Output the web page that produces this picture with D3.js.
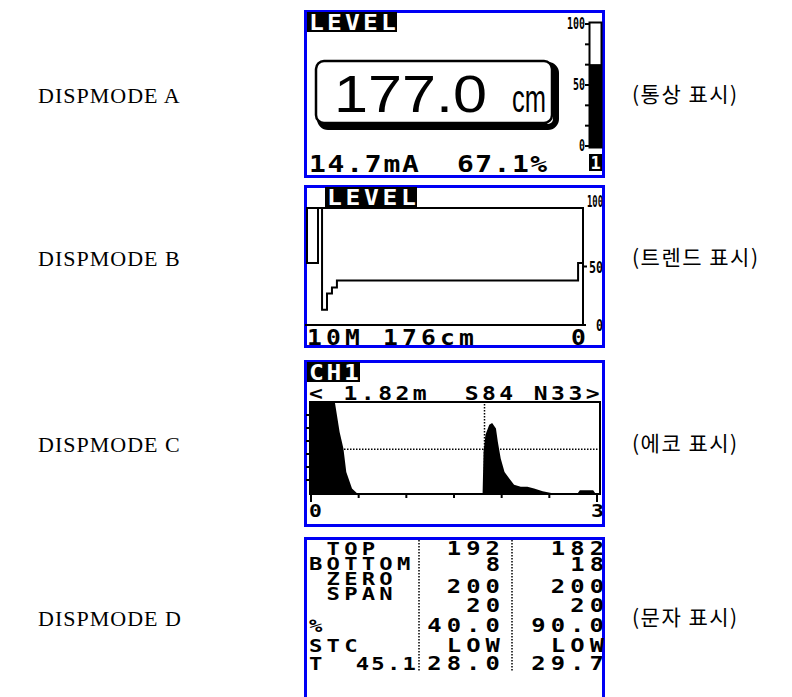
<!DOCTYPE html>
<html>
<head>
<meta charset="utf-8">
<title>DISPMODE</title>
<style>
body{margin:0;background:#fff}
svg{display:block}
</style>
</head>
<body>
<script src="https://cdn.jsdelivr.net/npm/d3@7"></script>
<script>
var modeNames = ['DISPMODE A', 'DISPMODE B', 'DISPMODE C', 'DISPMODE D']
var modeNotes = ['(통상 표시)', '(트렌드 표시)', '(에코 표시)', '(문자 표시)']

// A - normal display
var levelValue = '177.0', levelUnit = 'cm'
var levelCurrent = '14.7mA', levelPercentText = '67.1%'
var levelPercent = 67.1
var gaugeLabels = [0, 50, 100]

// B - trend (minutes from left edge, %)
var trendTime  = [0, 0.04, 0.23, 0.42, 0.61, 9.85, 10]
var trendLevel = [100, 13, 27, 32, 38, 53, 53]
var trendLabel = '10M 176cm'

// C - echo (m, amplitude %)
var echoRange = [0, 3]
var echoDist = [0, 0.25, 0.30, 0.34, 0.37, 0.43, 0.48, 1.80, 1.81, 1.83, 1.87, 1.90, 1.94, 1.96, 1.99,
                2.03, 2.08, 2.13, 2.20, 2.27, 2.34, 2.43, 2.52, 2.80, 2.82, 2.96, 2.98, 3.0]
var echoAmp  = [100, 100, 67, 49, 23, 5, 0, 0, 45, 64, 75, 77, 71, 56, 38,
                23, 16, 9, 7, 7, 5, 2, 0, 0, 3, 3, 0, 0]
var echoGate = 1.82, echoThreshold = 48
var echoHeader = '< 1.82m  S84 N33>'

// D - text display
var tableLabels = [' TOP', 'BOTTOM', ' ZERO', ' SPAN', '%', 'STC', 'T  45.1']
var tableCh1 = ['192', '8', '200', '20', '40.0', 'LOW', '28.0']
var tableCh2 = ['182', '18', '200', '20', '90.0', 'LOW', '29.7']

var BLUE = '#0000f4', MONO = 'DejaVu Sans Mono', SX = 1.2

var svg = d3.select('body').append('svg').attr('width', 792).attr('height', 697)

// lcd-ish text: monospace, a bit widened, fixed character pitch
function lcd(g, str, x, base, cap, pitch, fill){
  var fs = cap / 0.73
  return g.append('text')
    .attr('transform', 'scale(' + SX + ',1)')
    .attr('x', x / SX).attr('y', base)
    .attr('font-family', MONO)
    .attr('font-weight', 'bold')
    .attr('font-size', fs)
    .attr('letter-spacing', (pitch - fs * 0.602 * SX) / SX)
    .attr('fill', fill || '#000')
    .style('white-space', 'pre')
    .text(str)
}
function lcdEnd(g, str, xr, base, cap, pitch, fill){
  var fs = cap / 0.73
  return lcd(g, str, xr - (str.length - 1) * pitch - fs * 0.56 * SX, base, cap, pitch, fill)
}
function header(g, str, x0, y0, x1, y1){
  g.append('rect').attr('x', x0).attr('y', y0).attr('width', x1 - x0).attr('height', y1 - y0).attr('fill', '#000')
  lcd(g, str, x0 + 2, y1 - 2, y1 - y0 - 5, (x1 - x0 - 18) / (str.length - 1) , '#fff')
}

// side labels
var rowY = [103, 266, 452, 626]
svg.selectAll('text.mode').data(modeNames).enter().append('text')
  .attr('class', 'mode')
  .attr('x', 38).attr('y', function(d, i){ return rowY[i] })
  .attr('font-family', 'Liberation Serif').attr('font-size', 22)
  .attr('letter-spacing', 1)
  .text(function(d){ return d })
svg.selectAll('text.note').data(modeNotes).enter().append('text')
  .attr('class', 'note')
  .attr('x', 632).attr('y', function(d, i){ return rowY[i] - 1 })
  .attr('font-family', 'Noto Sans CJK KR').attr('font-size', 21)
  .attr('letter-spacing', 1.5)
  .style('white-space', 'pre')
  .text(function(d){ return d })

// panel frames
var panels = [[10, 178], [185, 348], [360, 527], [537, 712]]
svg.selectAll('rect.panel').data(panels).enter().append('rect')
  .attr('class', 'panel')
  .attr('x', 305.5).attr('y', function(d){ return d[0] + 1.5 })
  .attr('width', 298).attr('height', function(d){ return d[1] - d[0] - 3 })
  .attr('fill', '#fff').attr('stroke', BLUE).attr('stroke-width', 3)

// ---------- A
var gA = svg.append('g')
header(gA, 'LEVEL', 307, 12, 397, 32)
gA.append('rect').attr('x', 320).attr('y', 65).attr('width', 236).attr('height', 62)
  .attr('rx', 8).attr('fill', 'none').attr('stroke', '#000').attr('stroke-width', 6)
gA.append('rect').attr('x', 316).attr('y', 61).attr('width', 236).attr('height', 62)
  .attr('rx', 8).attr('fill', '#fff').attr('stroke', '#000').attr('stroke-width', 2.5)
gA.append('text').attr('x', 334).attr('y', 112)
  .attr('font-family', 'Liberation Sans').attr('font-size', 51)
  .attr('textLength', 153).attr('lengthAdjust', 'spacingAndGlyphs')
  .text(levelValue)
gA.append('text').attr('transform', 'translate(512,112) scale(1,1.4)')
  .attr('font-family', 'Liberation Sans').attr('font-size', 28)
  .attr('textLength', 34).attr('lengthAdjust', 'spacingAndGlyphs')
  .text(levelUnit)
lcd(gA, levelCurrent, 309, 172, 17, 18.6)
lcd(gA, levelPercentText, 457, 172, 17, 18.3)

var gy = d3.scaleLinear().domain([0, 100]).range([146, 24])
gA.append('rect').attr('x', 589.5).attr('y', 22.5).attr('width', 12).attr('height', 125)
  .attr('fill', '#fff').attr('stroke', '#000').attr('stroke-width', 2)
gA.append('rect').attr('x', 589.5).attr('y', gy(levelPercent)).attr('width', 12)
  .attr('height', 147.5 - gy(levelPercent)).attr('fill', '#000')
gA.selectAll('line.gt').data(d3.range(0, 100.1, 100 / 6)).enter().append('line')
  .attr('x1', 585).attr('x2', 589).attr('y1', gy).attr('y2', gy)
  .attr('stroke', '#000').attr('stroke-width', 2)
gA.selectAll('text.gl').data(gaugeLabels).enter().append('text')
  .attr('x', 585).attr('y', function(d){ return gy(d) + 5 })
  .attr('text-anchor', 'end').attr('font-family', MONO).attr('font-size', 15)
  .attr('font-weight', 'bold')
  .attr('textLength', function(d){ return String(d).length * 6 })
  .attr('lengthAdjust', 'spacingAndGlyphs')
  .text(function(d){ return d })
gA.append('rect').attr('x', 589).attr('y', 154).attr('width', 13).attr('height', 17).attr('fill', '#000')
gA.append('text').attr('x', 595.5).attr('y', 169).attr('text-anchor', 'middle')
  .attr('font-family', MONO).attr('font-size', 17).attr('font-weight', 'bold').attr('fill', '#fff').text('1')

// ---------- B
var gB = svg.append('g')
var tx = d3.scaleLinear().domain([0, 10]).range([321, 582])
var ty = d3.scaleLinear().domain([0, 100]).range([325, 208])
header(gB, 'LEVEL', 325, 187, 417, 207)
gB.append('line').attr('x1', 307).attr('x2', 584).attr('y1', ty(100)).attr('y2', ty(100)).attr('stroke', '#000').attr('stroke-width', 2)
gB.append('line').attr('x1', 305).attr('x2', 586).attr('y1', ty(0)).attr('y2', ty(0)).attr('stroke', '#000').attr('stroke-width', 2)
gB.append('line').attr('x1', 583).attr('x2', 583).attr('y1', ty(100)).attr('y2', ty(0)).attr('stroke', '#000').attr('stroke-width', 2)
gB.append('line').attr('x1', 583).attr('x2', 587).attr('y1', ty(50)).attr('y2', ty(50)).attr('stroke', '#000').attr('stroke-width', 2)
gB.append('rect').attr('x', 307).attr('y', ty(100)).attr('width', 11)
  .attr('height', ty(trendLevel[trendLevel.length - 1]) - ty(100))
  .attr('fill', 'none').attr('stroke', '#000').attr('stroke-width', 2)
var trendLine = d3.line()
  .x(function(d){ return tx(d[0]) }).y(function(d){ return ty(d[1]) })
  .curve(d3.curveStepAfter)
gB.append('path').attr('d', trendLine(d3.zip(trendTime, trendLevel)))
  .attr('fill', 'none').attr('stroke', '#000').attr('stroke-width', 2)
gB.selectAll('text.tl').data(gaugeLabels).enter().append('text')
  .attr('x', 603).attr('y', function(d){ return ty(d) + (d == 100 ? -1 : 6) })
  .attr('text-anchor', 'end').attr('font-family', MONO).attr('font-size', 16)
  .attr('font-weight', 'bold')
  .attr('textLength', function(d){ return d == 100 ? 16 : String(d).length * 7 })
  .attr('lengthAdjust', 'spacingAndGlyphs')
  .text(function(d){ return d })
lcd(gB, trendLabel, 307, 345, 15, 19)
lcd(gB, '0', 571, 345, 15, 19)

// ---------- C
var gC = svg.append('g')
var ex = d3.scaleLinear().domain(echoRange).range([311, 597])
var ey = d3.scaleLinear().domain([0, 100]).range([493, 402])
header(gC, 'CH1', 307, 362, 360, 382)
lcd(gC, echoHeader, 309, 400, 14, 17.3)
gC.append('rect').attr('x', 310).attr('y', 402).attr('width', 290).attr('height', 92)
  .attr('fill', 'none').attr('stroke', '#000').attr('stroke-width', 2)
gC.append('line').attr('x1', ex(0)).attr('x2', 600).attr('y1', ey(echoThreshold)).attr('y2', ey(echoThreshold))
  .attr('stroke', '#000').attr('stroke-width', 1.5).attr('stroke-dasharray', '1.5,1.5')
gC.append('line').attr('x1', ex(echoGate)).attr('x2', ex(echoGate)).attr('y1', 404).attr('y2', 493)
  .attr('stroke', '#000').attr('stroke-width', 1.5).attr('stroke-dasharray', '1.5,1.5')
var echoArea = d3.area()
  .x(function(d){ return ex(d[0]) }).y0(ey(0)).y1(function(d){ return ey(d[1]) })
gC.append('path').attr('d', echoArea(d3.zip(echoDist, echoAmp))).attr('fill', '#000')
gC.selectAll('line.ax').data(d3.range(0, 3.01, 0.5)).enter().append('line')
  .attr('x1', ex).attr('x2', ex).attr('y1', 493).attr('y2', function(d, i){ return i == 0 || i == 6 ? 502 : 498 })
  .attr('stroke', '#000').attr('stroke-width', 2)
gC.selectAll('line.ay').data(d3.range(1, 7).map(function(k){ return k * 100 / 7 })).enter().append('line')
  .attr('x1', 306).attr('x2', 311).attr('y1', ey).attr('y2', ey)
  .attr('stroke', '#000').attr('stroke-width', 2)
lcd(gC, String(echoRange[0]), 309, 517, 13, 10)
lcd(gC, String(echoRange[1]), 591, 517, 13, 10)

// ---------- D
var gD = svg.append('g')
var rowBaseL = [555, 570, 585, 600, 632, 652, 670]
var rowBaseV = [555, 571, 593, 612, 632, 652, 670]
var labelPitch = [17.6, 17.6, 17.6, 17.6, 17.6, 17.6, 15.6]
tableLabels.forEach(function(s, i){ lcd(gD, s, 309, rowBaseL[i], 13.5, labelPitch[i]) })
tableCh1.forEach(function(s, i){ lcdEnd(gD, s, 499, rowBaseV[i], 14.5, 19.5) })
tableCh2.forEach(function(s, i){ lcdEnd(gD, s, 603, rowBaseV[i], 14.5, 19.5) })
;[419, 512].forEach(function(x){
  gD.append('line').attr('x1', x).attr('x2', x).attr('y1', 540).attr('y2', 672)
    .attr('stroke', '#000').attr('stroke-width', 1.5).attr('stroke-dasharray', '1.5,1.5')
})
</script>
</body>
</html>
